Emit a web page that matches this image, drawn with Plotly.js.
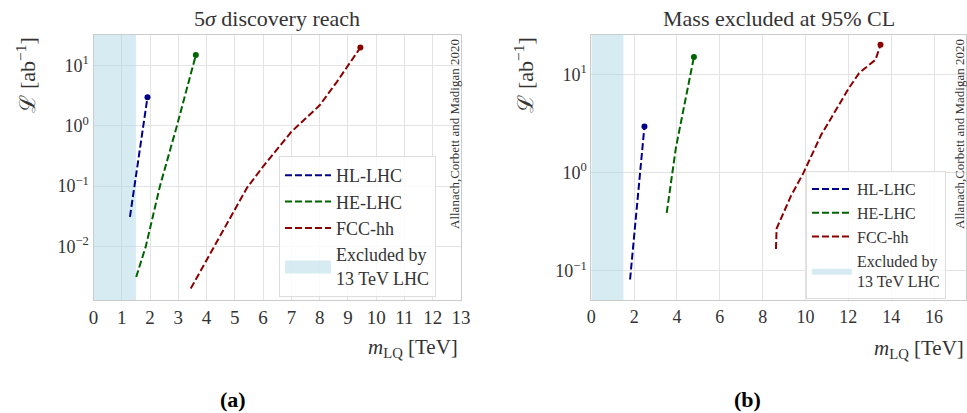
<!DOCTYPE html>
<html><head><meta charset="utf-8">
<script src="https://cdn.plot.ly/plotly-3.0.1.min.js"></script>
<style>html,body{margin:0;padding:0;background:#fff;}#chart{width:967px;height:413px;}</style>
</head><body><div id="chart"></div>
<script>
// ---- data: (a) 5 sigma discovery reach ----
const discHLx  = [1.29, 1.60, 1.91];
const discHLy  = [0.031, 0.31, 3.0];
const discHEx  = [1.51, 1.85, 2.35, 2.95, 3.62];
const discHEy  = [0.0031, 0.01, 0.1, 1.0, 15];
const discFCCx = [3.44, 4.24, 5.07, 5.43, 5.99, 7.0, 8.0, 8.61, 9.44];
const discFCCy = [0.002, 0.0094, 0.049, 0.094, 0.21, 0.8, 2.2, 5.4, 20];
// ---- data: (b) mass excluded at 95% CL ----
const exclHLx  = [1.81, 2.15, 2.48];
const exclHLy  = [0.082, 0.5, 2.95];
const exclHEx  = [3.52, 3.77, 3.95, 4.79];
const exclHEy  = [0.39, 1.0, 1.8, 15];
const exclFCCx = [8.62, 8.65, 9.32, 9.91, 10.72, 11.49, 12.0, 12.5, 13.27, 13.5];
const exclFCCy = [0.167, 0.27, 0.58, 1.0, 2.4, 4.6, 7.1, 10.3, 14.1, 20];
// ---- LHC 13 TeV exclusion ----
const lhcExcludedMax = 1.5;
// ---- tick labels ----
const xTicksA = [0,1,2,3,4,5,6,7,8,9,10,11,12,13];
const xTicksB = [0,2,4,6,8,10,12,14,16];
const yTickValsA = [0.01, 0.1, 1, 10];
const yTickTextA = ['10<sup>−2</sup>','10<sup>−1</sup>','10<sup>0</sup>','10<sup>1</sup>'];
const yTickValsB = [0.1, 1, 10];
const yTickTextB = ['10<sup>−1</sup>','10<sup>0</sup>','10<sup>1</sup>'];
const seriesNames = ['HL-LHC','HE-LHC','FCC-hh'];
const excludedName = 'Excluded by<br>13 TeV LHC';

// axis ranges (log10 for y)
const yRangeA = [-2.89, 1.51];
const yRangeB = [-1.295, 1.40];

const colors = ['#00008b', '#006400', '#8b0000'];
const shade = 'rgba(173,216,230,0.5)';
const serif = 'Liberation Serif, DejaVu Serif, serif';
const W = 967, H = 413;

function lineTrace(x, y, i, xa, ya, lg) {
  return {x: x, y: y, xaxis: xa, yaxis: ya, type: 'scatter', mode: 'lines',
    name: seriesNames[i], legend: lg, legendrank: i + 1,
    line: {color: colors[i], width: 2, dash: '7px,3px'}, hoverinfo: 'skip'};
}
function endDot(x, y, i, xa, ya) {
  return {x: [x[x.length-1]], y: [y[y.length-1]], xaxis: xa, yaxis: ya, type: 'scatter',
    mode: 'markers', showlegend: false, marker: {color: colors[i], size: 6}, hoverinfo: 'skip'};
}
function shadeTrace(xa, ya, yr, lg) {
  const lo = Math.pow(10, yr[0]), hi = Math.pow(10, yr[1]);
  return {x: [0, lhcExcludedMax, lhcExcludedMax, 0, 0], y: [lo, lo, hi, hi, lo],
    xaxis: xa, yaxis: ya, type: 'scatter', mode: 'lines', fill: 'toself',
    fillcolor: shade, line: {width: 0, color: shade}, name: excludedName,
    legend: lg, legendrank: 4, hoverinfo: 'skip'};
}

const traces = [
  shadeTrace('x', 'y', yRangeA, 'legend'),
  lineTrace(discHLx, discHLy, 0, 'x', 'y', 'legend'),
  lineTrace(discHEx, discHEy, 1, 'x', 'y', 'legend'),
  lineTrace(discFCCx, discFCCy, 2, 'x', 'y', 'legend'),
  endDot(discHLx, discHLy, 0, 'x', 'y'),
  endDot(discHEx, discHEy, 1, 'x', 'y'),
  endDot(discFCCx, discFCCy, 2, 'x', 'y'),
  shadeTrace('x2', 'y2', yRangeB, 'legend2'),
  lineTrace(exclHLx, exclHLy, 0, 'x2', 'y2', 'legend2'),
  lineTrace(exclHEx, exclHEy, 1, 'x2', 'y2', 'legend2'),
  lineTrace(exclFCCx, exclFCCy, 2, 'x2', 'y2', 'legend2'),
  endDot(exclHLx, exclHLy, 0, 'x2', 'y2'),
  endDot(exclHEx, exclHEy, 1, 'x2', 'y2'),
  endDot(exclFCCx, exclFCCy, 2, 'x2', 'y2')
];

const px = v => v / W;
const py = v => 1 - v / H;
const gridCol = '#e3e3e3';
const lineCol = '#cccccc';

function xAxis(domain, range, ticks, anchor, fs) {
  return {domain: domain, range: range, anchor: anchor, tickmode: 'array', tickvals: ticks,
    ticks: '', showgrid: true, gridcolor: gridCol, zeroline: false, showline: true,
    mirror: true, linecolor: lineCol, linewidth: 1,
    tickfont: {family: serif, size: fs, color: '#333'}};
}
function yAxis(range, vals, text, anchor) {
  return {domain: [py(300), py(35)], type: 'log', range: range, anchor: anchor,
    tickmode: 'array', tickvals: vals, ticktext: text, ticks: '', showgrid: true,
    gridcolor: gridCol, zeroline: false, showline: true, mirror: true,
    linecolor: lineCol, linewidth: 1, tickfont: {family: serif, size: 18, color: '#333'}};
}

function legendCfg(x, y, fs, iw) {
  return {x: px(x), y: py(y), font: {family: serif, size: fs, color: '#333'},
    bgcolor: 'rgba(255,255,255,0.85)', bordercolor: '#dddddd', borderwidth: 1,
    itemwidth: iw, traceorder: 'normal', xanchor: 'left', yanchor: 'top', tracegroupgap: 0};
}

const ann = [];
function txt(x, y, text, size, opts) {
  ann.push(Object.assign({xref: 'paper', yref: 'paper', x: px(x), y: py(y), text: text,
    xanchor: 'center', yanchor: 'middle',
    showarrow: false, font: {family: serif, size: size, color: '#333'}}, opts || {}));
}
txt(277, 18, '5<i>σ</i> discovery reach', 22, {});
txt(779, 18, 'Mass excluded at 95% CL', 22, {});
txt(25, 36, 'ℒ [ab<sup>−1</sup>]', 22, {textangle: -90, yanchor: 'top'});
txt(523, 36, 'ℒ [ab<sup>−1</sup>]', 22, {textangle: -90, yanchor: 'top'});
txt(460, 348, '<i>m</i><sub>LQ</sub> [TeV]', 21, {xanchor: 'right'});
txt(966, 349, '<i>m</i><sub>LQ</sub> [TeV]', 21, {xanchor: 'right'});
txt(454, 37, 'Allanach,Corbett and Madigan 2020', 13, {textangle: -90, yanchor: 'top'});
txt(959, 37, 'Allanach,Corbett and Madigan 2020', 13, {textangle: -90, yanchor: 'top'});
txt(233, 399, '<b>(a)</b>', 22, {font: {family: serif, size: 22, color: '#000'}});
txt(747, 399, '<b>(b)</b>', 22, {font: {family: serif, size: 22, color: '#000'}});

const layout = {
  width: W, height: H, margin: {l: 0, r: 0, t: 0, b: 0},
  paper_bgcolor: '#fff', plot_bgcolor: '#fff', font: {family: serif, color: '#333'},
  xaxis: xAxis([px(93.5), px(461)], [0, 13], xTicksA, 'y', 19),
  yaxis: yAxis(yRangeA, yTickValsA, yTickTextA, 'x'),
  xaxis2: xAxis([px(591.3), px(966)], [0, 17.5 * 966.5/967], xTicksB, 'y2', 18),
  yaxis2: yAxis(yRangeB, yTickValsB, yTickTextB, 'x2'),
  legend: legendCfg(279, 156, 18, 46),
  legend2: legendCfg(806, 171, 16, 40),
  annotations: ann,
  showlegend: true
};

Plotly.newPlot('chart', traces, layout, {staticPlot: true, displayModeBar: false}).then(function (gd) {
  // make the legend patch for the shaded region a taller box, like the reference
  gd.querySelectorAll('.legend .legendfill path').forEach(function (p) {
    const bb = p.getBBox();
    if (bb.height > 0 && bb.height < 10) {
      const cy = bb.y + bb.height / 2;
      p.setAttribute('transform', 'translate(0,' + cy + ') scale(1,' + (13 / bb.height) + ') translate(0,' + (-cy) + ')');
    }
  });
});
</script>
</body></html>
